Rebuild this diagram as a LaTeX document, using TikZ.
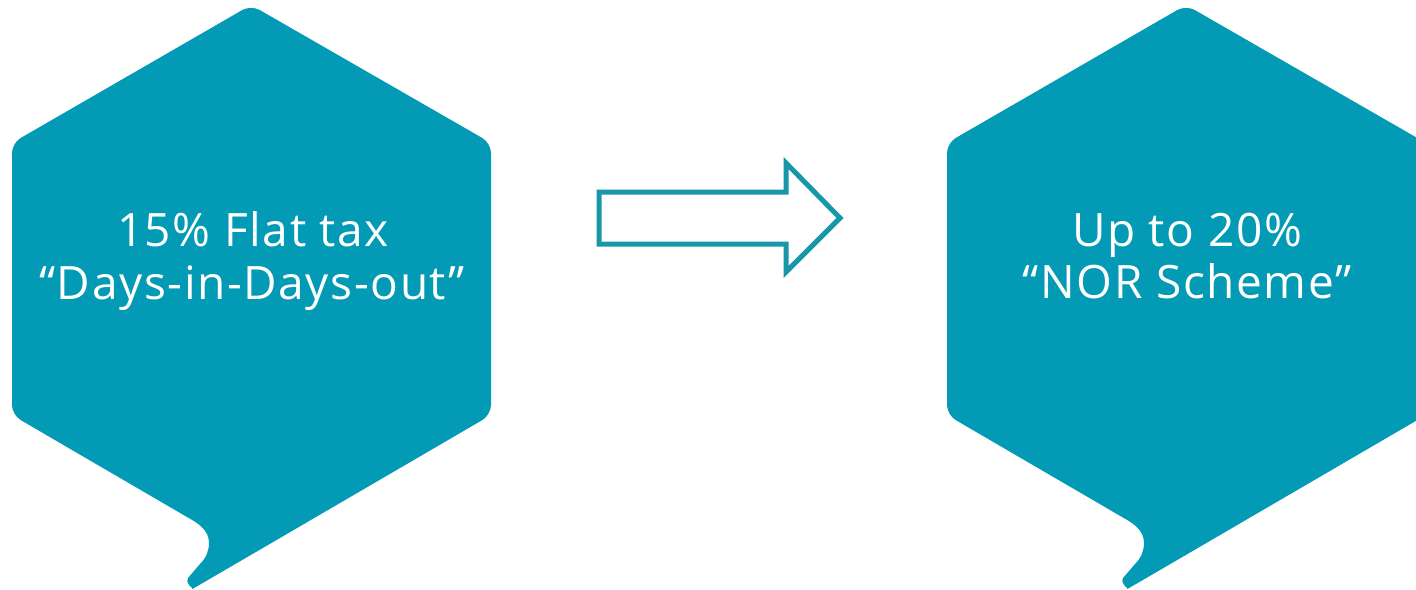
\documentclass[tikz,border=0pt]{standalone}
\usepackage{fontspec}
\setmainfont{Open Sans}[LetterSpace=3.5]
\definecolor{hexteal}{HTML}{029AB4}
\definecolor{arrteal}{HTML}{1897A9}
\begin{document}
\begin{tikzpicture}[x=1pt,y=-1pt,
  bubble/.style={fill=hexteal},
  lbl/.style={text=white,anchor=base,font=\fontsize{46}{53}\selectfont,inner sep=0pt},
  arr/.style={draw=arrteal,line width=5pt,fill=white,miter limit=10}]
\useasboundingbox (0,0) rectangle (1416,589);
\clip (0,0) rectangle (1416,589);
\foreach \dx/\nm in {0/L,935/R}{
\begin{scope}[xshift=\dx pt]
\fill[bubble] (187,517) [rounded corners=10pt] -- (12,415) -- (12,143) -- (251,5) -- (491,143) -- (491,415) -- (201,584) [sharp corners]
  .. controls (194,588) and (185,585) .. (188,578) -- (200,564)
  .. controls (206,558) and (209,551) .. (209,543)
  .. controls (209,530) and (198,523) .. (187,517) -- cycle;
\end{scope}}
\node[lbl] (t1a) at (253,246) {15\% Flat tax};
\node[lbl] (t1b) at (252,299) {“Days-in-Days-out”};
\node[lbl] (t2a) at (1187,246) {Up to 20\%};
\node[lbl] (t2b) at (1187,298) {“NOR Scheme”};
\draw[arr] (599,192) -- (786,192) -- (786,163) -- (840,218) -- (786,272) -- (786,244) -- (599,244) -- cycle;
\end{tikzpicture}
\end{document}
